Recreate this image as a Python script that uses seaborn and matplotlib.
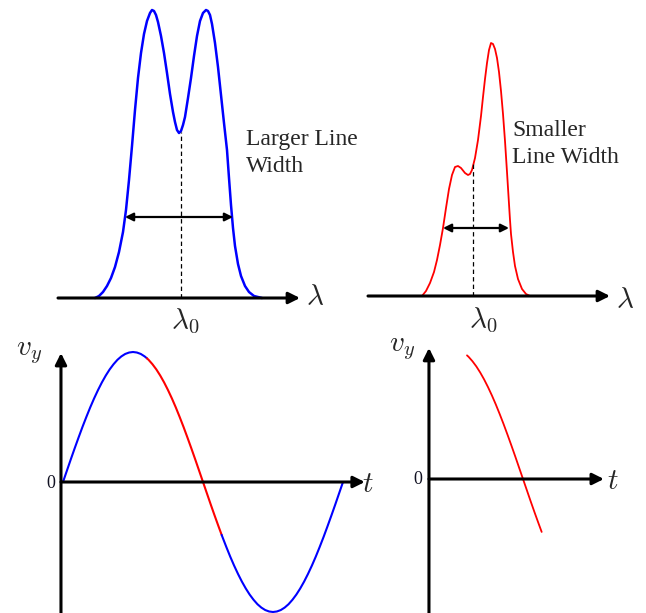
import matplotlib
matplotlib.use("Agg")
import matplotlib.pyplot as plt
import seaborn as sns
import pandas as pd

sns.set_theme(style="white")
plt.rcParams["font.family"] = ["Liberation Serif", "DejaVu Serif"]
plt.rcParams["mathtext.fontset"] = "cm"

# ---------------- data ----------------
# broad spectrum (blue): wavelength offset from lambda0, intensity
broad_lambda = [-86, -82, -78, -74, -70, -66, -62, -58, -55, -52, -49, -46, -43, -40, -37,
                -34, -31, -29, -27, -25, -23, -20, -17, -14, -11, -8, -6, -4, -2, 0,
                2, 4, 7, 10, 13, 16, 19, 22, 25, 27, 29, 31, 34, 37, 40,
                43, 46, 48, 50, 52, 54, 57, 60, 64, 68, 73, 81]
broad_intensity = [0, 2, 6, 12, 20, 31, 46, 66, 88, 118, 152, 188, 220, 245, 264,
                   277, 285, 288, 287, 283, 276, 262, 245, 225, 204, 186, 176, 168, 165, 167,
                   173, 181, 200, 220, 242, 262, 277, 285, 288, 287, 283, 274, 255, 231, 203,
                   175, 148, 120, 93, 70, 52, 34, 22, 12, 6, 2, 0]

# narrow spectrum (red)
narrow_lambda = [-50, -46, -42, -38, -35, -32, -29, -26, -23, -20, -17, -14, -11, -7, -4,
                 -2, 0, 3, 6, 9, 11, 13, 15, 17, 19, 21, 23, 25, 27, 29,
                 31, 33, 35, 37, 38, 39, 41, 43, 46, 50, 54, 58]
narrow_intensity = [0, 5, 13, 24, 36, 51, 68, 88, 107, 121, 129, 130, 128, 123, 121,
                    122, 126, 138, 156, 180, 199, 217, 233, 246, 253, 252, 247, 238, 224, 205,
                    182, 155, 124, 92, 76, 62, 44, 30, 17, 7, 2, 0]

# transverse velocity (normalised) vs phase in degrees
phase_deg = [0, 5, 10, 15, 20, 25, 30, 35, 40, 45, 50, 55, 60, 65, 70, 75, 80, 85, 90,
             95, 100, 105, 108, 110, 115, 120, 125, 130, 135, 140, 145, 150, 155, 160,
             165, 170, 175, 180, 185, 190, 195, 200, 204, 205, 210, 215, 220, 225, 230,
             235, 240, 245, 250, 255, 260, 265, 270, 275, 280, 285, 290, 295, 300, 305,
             310, 315, 320, 325, 330, 335, 340, 345, 350, 355, 360]
vy = [0.000, 0.087, 0.174, 0.259, 0.342, 0.423, 0.500, 0.574, 0.643, 0.707, 0.766, 0.819,
      0.866, 0.906, 0.940, 0.966, 0.985, 0.996, 1.000,
      0.996, 0.985, 0.966, 0.951, 0.940, 0.906, 0.866, 0.819, 0.766, 0.707, 0.643, 0.574,
      0.500, 0.423, 0.342, 0.259, 0.174, 0.087, 0.000,
      -0.087, -0.174, -0.259, -0.342, -0.407, -0.423, -0.500, -0.574, -0.643, -0.707,
      -0.766, -0.819, -0.866, -0.906, -0.940, -0.966, -0.985, -0.996, -1.000,
      -0.996, -0.985, -0.966, -0.940, -0.906, -0.866, -0.819, -0.766, -0.707, -0.643,
      -0.574, -0.500, -0.423, -0.342, -0.259, -0.174, -0.087, 0.000]
red_start, red_end = 108, 204

BLUE = "#0000FF"
RED = "#FF0000"

W, H = 646, 613
fig = plt.figure(figsize=(W / 100, H / 100), dpi=100)


def panel(box, origin, sx=1.0, sy=1.0):
    l, t, r, b = box
    ax = fig.add_axes([l / W, 1 - b / H, (r - l) / W, (b - t) / H])
    ox, oy = origin
    ax.set_xlim((l - ox) / sx, (r - ox) / sx)
    ax.set_ylim((oy - b) / sy, (oy - t) / sy)
    ax.axis("off")
    return ax


def axis_arrow(ax, start, end, lw=2.2):
    ax.annotate("", xy=end, xytext=start, annotation_clip=False,
                arrowprops=dict(arrowstyle="-|>", lw=lw, color="black",
                                mutation_scale=17, shrinkA=0, shrinkB=0))


def double_arrow(ax, start, end):
    ax.annotate("", xy=end, xytext=start, annotation_clip=False,
                arrowprops=dict(arrowstyle="<|-|>", lw=1.6, color="black",
                                mutation_scale=12, shrinkA=0, shrinkB=0))


LAB = 21
TXT = 17

# ---------------- top-left: broad spectrum ----------------
ax1 = panel((0, 0, 340, 345), (181, 298))
sns.lineplot(data=pd.DataFrame({"l": broad_lambda, "I": broad_intensity}), x="l", y="I",
             sort=False, estimator=None, color=BLUE, lw=1.8, ax=ax1)
ax1.plot([0, 0], [0, 166], ls=(0, (3.5, 2.5)), lw=0.9, color="black")
axis_arrow(ax1, (-123, 0), (119, 0))
double_arrow(ax1, (-56, 81), (52, 81))
ax1.text(125, 0, r"$\lambda$", fontsize=LAB, ha="left", va="center")
ax1.text(4, -23, r"$\lambda_0$", fontsize=LAB, ha="center", va="center")
ax1.text(65, 153, "Larger Line", fontsize=TXT, ha="left", va="baseline")
ax1.text(65, 126, "Width", fontsize=TXT, ha="left", va="baseline")

# ---------------- top-right: narrow spectrum ----------------
ax2 = panel((340, 0, 646, 345), (472, 296))
sns.lineplot(data=pd.DataFrame({"l": narrow_lambda, "I": narrow_intensity}), x="l", y="I",
             sort=False, estimator=None, color=RED, lw=1.3, ax=ax2)
ax2.plot([1, 1], [0, 134], ls=(0, (3.5, 2.5)), lw=0.9, color="black")
axis_arrow(ax2, (-104, 0), (138, 0))
double_arrow(ax2, (-29, 68), (37, 68))
ax2.text(144, -5, r"$\lambda$", fontsize=LAB, ha="left", va="center")
ax2.text(11, -24, r"$\lambda_0$", fontsize=LAB, ha="center", va="center")
ax2.text(40, 160, "Smaller", fontsize=TXT, ha="left", va="baseline")
ax2.text(40, 133, "Line Width", fontsize=TXT, ha="left", va="baseline")

# ---------------- bottom-left: full sine ----------------
sx = 280 / 360
df = pd.DataFrame({"phase": phase_deg, "vy": vy})
seg1 = df[df.phase <= red_start]
seg2 = df[(df.phase >= red_start) & (df.phase <= red_end)]
seg3 = df[df.phase >= red_end]

ax3 = panel((0, 330, 390, 613), (63, 482), sx=sx, sy=130)
for seg, c in ((seg1, BLUE), (seg2, RED), (seg3, BLUE)):
    sns.lineplot(data=seg, x="phase", y="vy", sort=False, estimator=None,
                 color=c, lw=1.5, ax=ax3)
axis_arrow(ax3, (-2.6, 0), (388, 0))
axis_arrow(ax3, (-2.6, -1.05), (-2.6, 0.992))
ax3.text(385, -0.02, r"$t$", fontsize=LAB, ha="left", va="center")
ax3.text(-43, 0.99, r"$v_y$", fontsize=LAB, ha="center", va="center")
ax3.text(-16, -0.01, "0", fontsize=13, ha="center", va="center", color="#111122")

# ---------------- bottom-right: red segment only ----------------
ox4 = 523 - 180 * sx
ax4 = panel((380, 330, 646, 613), (ox4, 479), sx=sx, sy=130)
sns.lineplot(data=seg2, x="phase", y="vy", sort=False, estimator=None,
             color=RED, lw=1.3, ax=ax4)
axis_arrow(ax4, (59.1, 0), (284, 0))
axis_arrow(ax4, (59.1, -1.05), (59.1, 1.008))
ax4.text(288, -0.02, r"$t$", fontsize=LAB, ha="left", va="center")
ax4.text(25, 1.0, r"$v_y$", fontsize=LAB, ha="center", va="center")
ax4.text(45, 0.0, "0", fontsize=13, ha="center", va="center", color="#111122")

fig.savefig("out.png", dpi=100)
